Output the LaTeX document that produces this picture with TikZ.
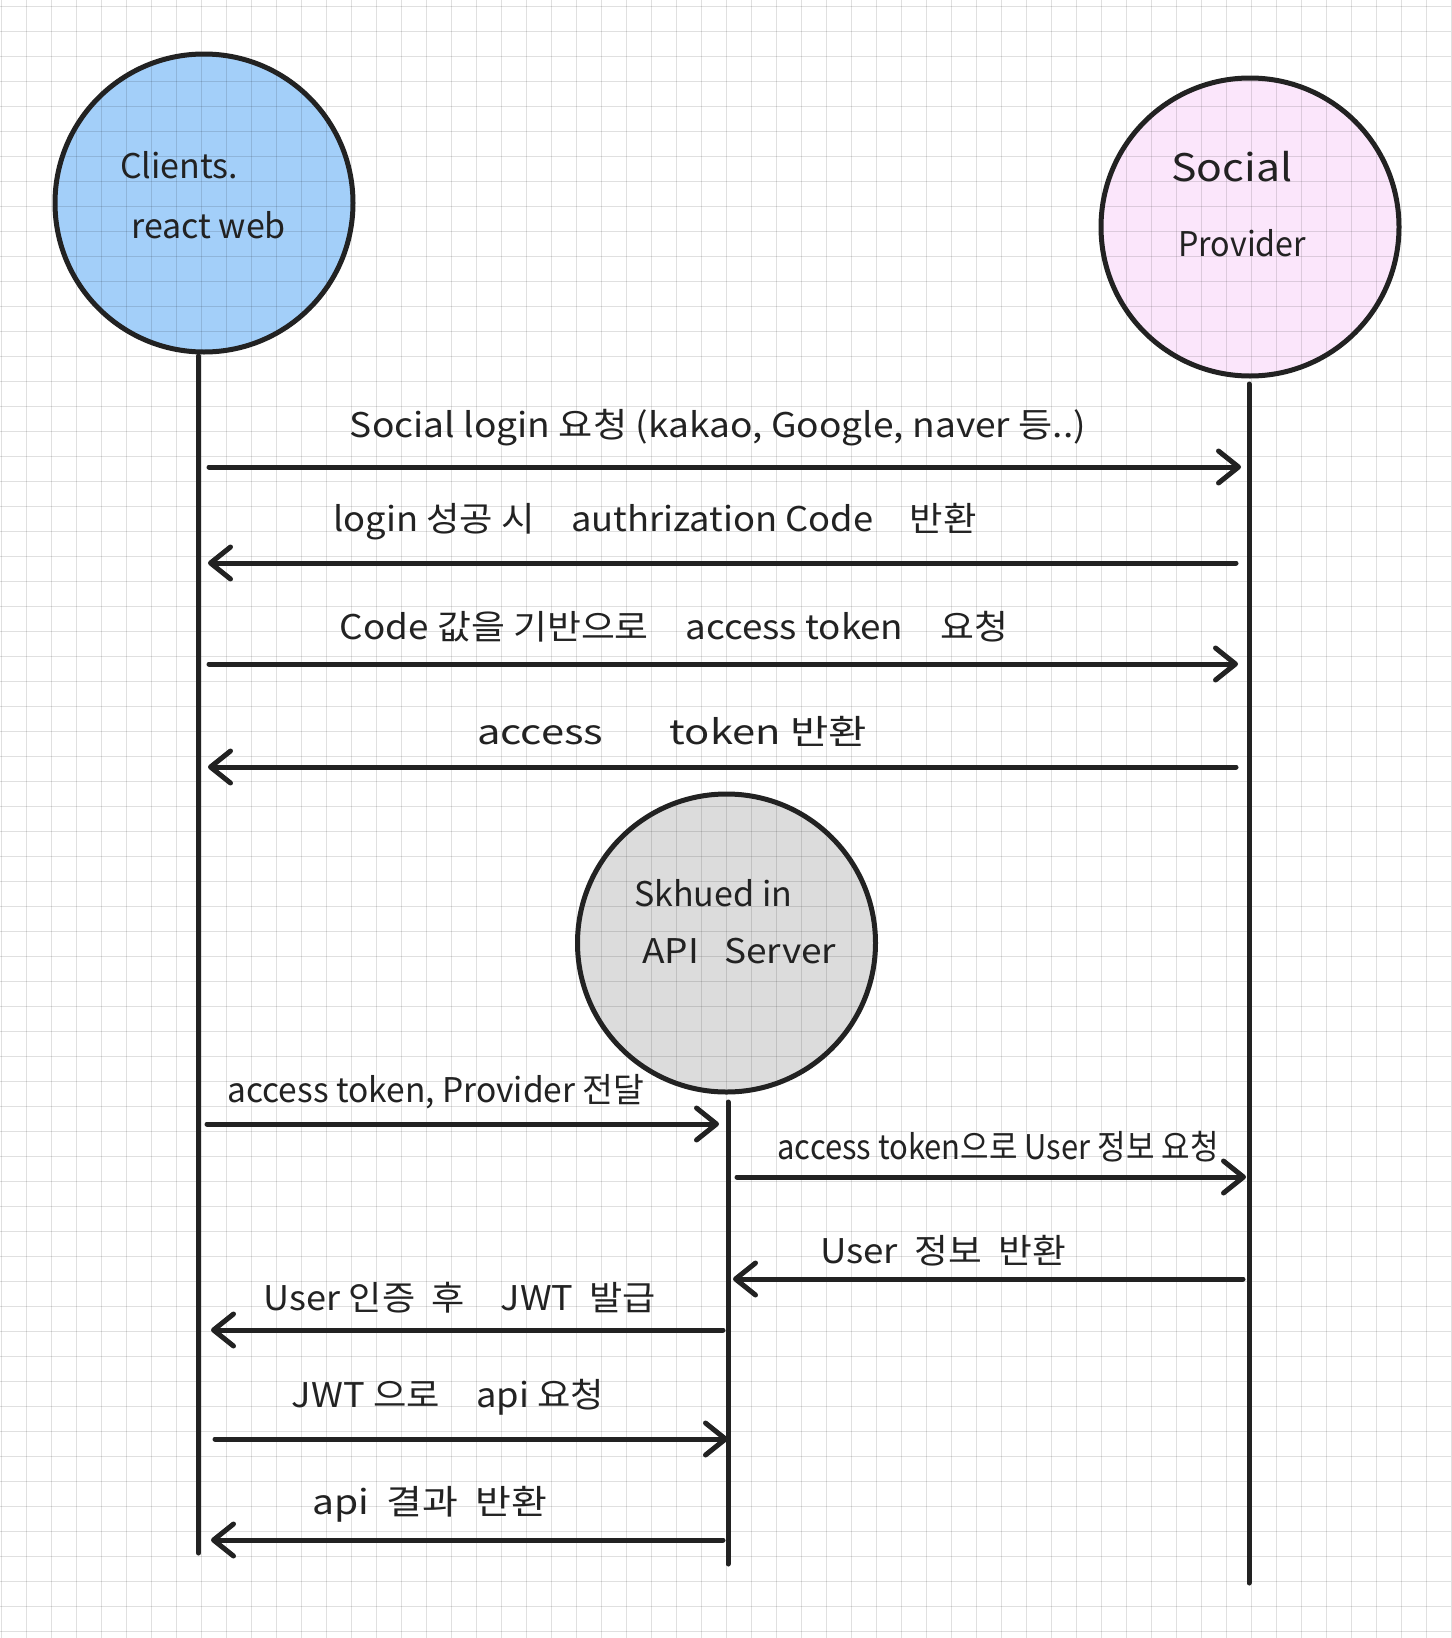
\documentclass[tikz,border=0pt]{standalone}
\usepackage{fontspec}
\usepackage{graphicx}
\setmainfont{Noto Sans CJK KR}
\usetikzlibrary{arrows.meta}
\definecolor{ink}{HTML}{222222}
\definecolor{clientfill}{HTML}{A3CFF9}
\definecolor{providerfill}{HTML}{FBE6FB}
\definecolor{serverfill}{HTML}{DCDCDC}
\newcommand{\fitlab}[2]{\resizebox{#1pt}{\height}{#2}}
\begin{document}
\begin{tikzpicture}[x=1pt,y=-1pt,
  actor/.style={circle,draw=ink,line width=5pt,minimum size=298pt,inner sep=0pt},
  gridline/.style={draw=black,opacity=0.12,line width=1pt},
  life/.style={draw=ink,line width=5pt,line cap=round},
  msg/.style={draw=ink,line width=5pt,line cap=round,-{Straight Barb[length=20pt,width=32pt,round]}},
  lab/.style={font=\fontsize{34}{36}\selectfont,text=ink,inner sep=0pt},
  ntext/.style={font=\fontsize{34}{36}\selectfont,text=ink,anchor=west,inner sep=0pt}]
\path[use as bounding box,fill=white] (0,0) rectangle (1451,1638);
% circle fills
\fill[clientfill] (204,203) circle (149);
\fill[providerfill] (1250,227) circle (149);
\fill[serverfill] (726.5,943) circle (149);
% grid
\foreach \i in {0,...,58} \draw[gridline] ({1.7+25*\i},0) -- ({1.7+25*\i},1638);
\foreach \j in {0,...,65} \draw[gridline] (0,{6.7+25*\j}) -- (1451,{6.7+25*\j});
% actors
\node[actor] (client) at (204,203) {};
\node[actor] (provider) at (1250,227) {};
\node[actor] (server) at (726.5,943) {};
\node[ntext] (ct1) at (120,165) {Clients.};
\node[ntext] (ct2) at (131,225) {react web};
\node[ntext,font=\fontsize{38}{40}\selectfont] (pt1) at (1171,167) {\fitlab{121}{Social}};
\node[ntext] (pt2) at (1178,243) {\fitlab{128}{Provider}};
\node[ntext] (st1) at (634,893) {Skhued in};
\node[ntext] (st2) at (642,951) {\fitlab{194}{API\ \ \ Server}};
% lifelines
\coordinate (ctop) at (198.5,356);
\coordinate (cbot) at (198.5,1553);
\coordinate (ptop) at (1249,384);
\coordinate (pbot) at (1249,1583);
\coordinate (stop) at (728,1102);
\coordinate (sbot) at (728,1564);
\draw[life] (ctop) -- (cbot);
\draw[life] (ptop) -- (pbot);
\draw[life] (stop) -- (sbot);
% messages
\coordinate (m1a) at (209,467);  \coordinate (m1b) at (1241,467);
\coordinate (m2a) at (1236,563); \coordinate (m2b) at (208,563);
\coordinate (m3a) at (209,664);  \coordinate (m3b) at (1238,664);
\coordinate (m4a) at (1236,767); \coordinate (m4b) at (208,767);
\coordinate (m5a) at (207,1124); \coordinate (m5b) at (719,1124);
\coordinate (m6a) at (737,1177); \coordinate (m6b) at (1246,1177);
\coordinate (m7a) at (1243,1279); \coordinate (m7b) at (733,1279);
\coordinate (m8a) at (723,1330); \coordinate (m8b) at (211,1330);
\coordinate (m9a) at (215,1439); \coordinate (m9b) at (728,1439);
\coordinate (m10a) at (723,1540); \coordinate (m10b) at (211,1540);
\draw[msg] (m1a) -- (m1b);
\draw[msg] (m2a) -- (m2b);
\draw[msg] (m3a) -- (m3b);
\draw[msg] (m4a) -- (m4b);
\draw[msg] (m5a) -- (m5b);
\draw[msg] (m6a) -- (m6b);
\draw[msg] (m7a) -- (m7b);
\draw[msg] (m8a) -- (m8b);
\draw[msg] (m9a) -- (m9b);
\draw[msg] (m10a) -- (m10b);
% labels
\node[lab] (l1) at (718,428) {\fitlab{736}{Social login 요청 (kakao, Google, naver 등..)}};
\node[lab] (l2) at (655,522) {\fitlab{643}{login 성공 시\quad authrization Code\quad 반환}};
\node[lab] (l3) at (674,627) {\fitlab{668}{Code 값을 기반으로\quad access token\quad 요청}};
\node[lab] (l4) at (672,731) {\fitlab{390}{access\hspace{1.6em}token\ 반환}};
\node[lab] (l5) at (436,1092) {\fitlab{417}{access token, Provider 전달}};
\node[lab] (l6) at (998,1147) {\fitlab{441}{access token으로 User 정보 요청}};
\node[lab] (l7) at (943,1251) {\fitlab{246}{User\ \ 정보\ \ 반환}};
\node[lab] (l8) at (460,1298) {\fitlab{392}{User 인증\ \ 후\quad JWT\ \ 발급}};
\node[lab] (l9) at (448,1397) {\fitlab{312}{JWT 으로\quad api 요청}};
\node[lab] (l10) at (430,1504) {\fitlab{235}{api\ \ 결과\ \ 반환}};
\end{tikzpicture}
\end{document}
